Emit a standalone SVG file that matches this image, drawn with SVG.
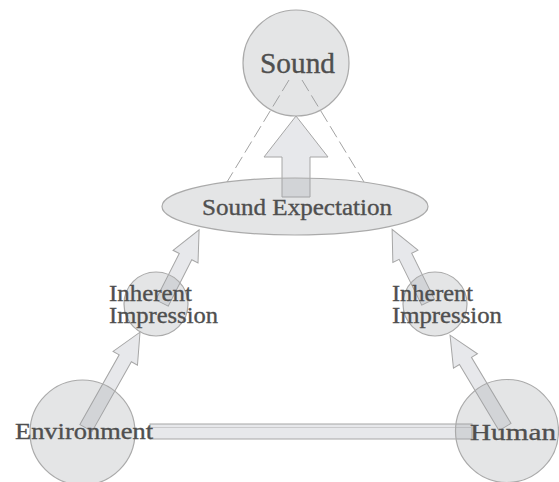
<svg xmlns="http://www.w3.org/2000/svg" width="559" height="482" viewBox="0 0 559 482">
<style>
.node{fill:#9fa1a7;fill-opacity:0.28;stroke:#aaaaaa;stroke-width:1.2}
.arrow{fill:#e7e8eb;stroke:#a6a6a6;stroke-width:1}
.dash{fill:none;stroke:#a3a3a3;stroke-width:1;stroke-dasharray:13 5}
.lbl{font-family:"Liberation Serif","Times New Roman",serif;fill:#4f4f4f;stroke:#4f4f4f;stroke-width:0.35;font-size:24px}
</style>
<rect width="559" height="482" fill="#ffffff"/>
<g id="connectors">
  <line class="dash" x1="289" y1="80" x2="227" y2="182"/>
  <line class="dash" x1="302" y1="80" x2="364" y2="182"/>
  <polygon class="arrow" points="282,197 282,157 264,157 296,116 328,157 310,157 310,197"/>
  <polygon class="arrow" transform="translate(86,428) rotate(-60.6)" points="0,-7 80,-7 80,-14 110,0 80,14 80,7 0,7"/>
  <polygon class="arrow" transform="translate(162,303) rotate(-63.1)" points="0,-7 52,-7 52,-14 82,0 52,14 52,7 0,7"/>
  <polygon class="arrow" transform="translate(505,427) rotate(-120.9)" points="0,-7 77,-7 77,-14 107,0 77,14 77,7 0,7"/>
  <polygon class="arrow" transform="translate(428,302) rotate(-116.3)" points="0,-7 51,-7 51,-14 81,0 51,14 51,7 0,7"/>
  <rect class="arrow" x="150" y="424" width="322" height="15"/>
  <line x1="150" y1="427.5" x2="472" y2="427.5" stroke="#cacacc" stroke-width="1"/>
</g>
<g id="sound">
  <circle class="node" cx="296" cy="63" r="53"/>
  <text class="lbl" x="297.5" y="73" text-anchor="middle" style="font-size:29px" textLength="75" lengthAdjust="spacingAndGlyphs">Sound</text>
</g>
<g id="sound-expectation">
  <ellipse class="node" cx="295" cy="206.5" rx="133" ry="28.5"/>
  <text class="lbl" x="297" y="215" text-anchor="middle" textLength="190" lengthAdjust="spacingAndGlyphs">Sound Expectation</text>
</g>
<g id="inherent-left">
  <circle class="node" cx="156" cy="304" r="32"/>
  <text class="lbl" x="109" y="301" textLength="83" lengthAdjust="spacingAndGlyphs">Inherent</text>
  <text class="lbl" x="109" y="323" textLength="109" lengthAdjust="spacingAndGlyphs">Impression</text>
</g>
<g id="inherent-right">
  <circle class="node" cx="435" cy="304" r="32"/>
  <text class="lbl" x="392" y="301" textLength="81" lengthAdjust="spacingAndGlyphs">Inherent</text>
  <text class="lbl" x="392" y="323" textLength="110" lengthAdjust="spacingAndGlyphs">Impression</text>
</g>
<g id="environment">
  <circle class="node" cx="82.5" cy="432.5" r="52.5"/>
  <text class="lbl" x="15" y="439" textLength="138" lengthAdjust="spacingAndGlyphs">Environment</text>
</g>
<g id="human">
  <circle class="node" cx="507" cy="431" r="51.5"/>
  <text class="lbl" x="470" y="439.5" textLength="86" lengthAdjust="spacingAndGlyphs">Human</text>
</g>
</svg>
